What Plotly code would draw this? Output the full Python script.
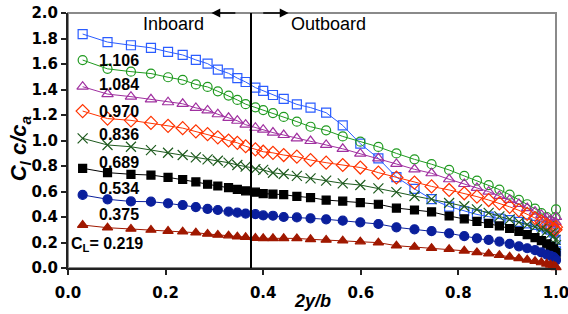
import plotly.graph_objects as go

# spanwise stations 2y/b
span = [0.030, 0.081, 0.129, 0.170, 0.205, 0.235, 0.262, 0.286, 0.307, 0.329,
        0.347, 0.364, 0.384, 0.400, 0.420, 0.442, 0.469, 0.497, 0.529, 0.563,
        0.599, 0.636, 0.673, 0.710, 0.745, 0.781, 0.812, 0.838, 0.862, 0.884,
        0.905, 0.924, 0.941, 0.957, 0.970, 0.981, 0.989, 0.995, 0.999, 1.000]

cl_1106 = [1.835, 1.772, 1.747, 1.727, 1.695, 1.671, 1.632, 1.603, 1.556, 1.527,
           1.489, 1.459, 1.415, 1.390, 1.357, 1.327, 1.283, 1.258, 1.218, 1.118,
           0.975, 0.860, 0.713, 0.620, 0.540, 0.482, 0.445, 0.420, 0.403, 0.388,
           0.375, 0.362, 0.350, 0.338, 0.326, 0.310, 0.300, 0.280, 0.220, 0.130]
cl_1084 = [1.631, 1.562, 1.540, 1.525, 1.496, 1.475, 1.440, 1.420, 1.386, 1.352,
           1.318, 1.285, 1.260, 1.239, 1.215, 1.185, 1.148, 1.108, 1.080, 1.032,
           0.991, 0.950, 0.899, 0.852, 0.814, 0.769, 0.722, 0.685, 0.650, 0.615,
           0.575, 0.535, 0.500, 0.465, 0.430, 0.400, 0.370, 0.330, 0.400, 0.460]
cl_0970 = [1.422, 1.364, 1.344, 1.323, 1.300, 1.288, 1.256, 1.236, 1.206, 1.178,
           1.155, 1.124, 1.100, 1.085, 1.062, 1.043, 1.017, 0.996, 0.965, 0.935,
           0.897, 0.860, 0.816, 0.774, 0.743, 0.696, 0.659, 0.628, 0.599, 0.565,
           0.535, 0.502, 0.470, 0.442, 0.416, 0.395, 0.375, 0.345, 0.360, 0.400]
cl_0836 = [1.231, 1.172, 1.158, 1.138, 1.115, 1.097, 1.072, 1.050, 1.025, 1.000,
           0.982, 0.955, 0.931, 0.912, 0.903, 0.886, 0.873, 0.847, 0.826, 0.808,
           0.788, 0.748, 0.710, 0.670, 0.640, 0.612, 0.586, 0.560, 0.533, 0.507,
           0.480, 0.452, 0.424, 0.392, 0.365, 0.340, 0.320, 0.305, 0.300, 0.320]
cl_0689 = [1.017, 0.965, 0.951, 0.925, 0.904, 0.886, 0.868, 0.852, 0.841, 0.826,
           0.808, 0.795, 0.776, 0.769, 0.747, 0.737, 0.722, 0.703, 0.685, 0.664,
           0.651, 0.625, 0.595, 0.565, 0.540, 0.510, 0.484, 0.460, 0.432, 0.405,
           0.382, 0.360, 0.340, 0.322, 0.305, 0.290, 0.270, 0.250, 0.220, 0.180]
cl_0534 = [0.782, 0.748, 0.735, 0.729, 0.711, 0.694, 0.675, 0.657, 0.643, 0.630,
           0.617, 0.605, 0.595, 0.583, 0.580, 0.575, 0.562, 0.552, 0.533, 0.525,
           0.513, 0.500, 0.470, 0.455, 0.440, 0.408, 0.386, 0.365, 0.350, 0.330,
           0.310, 0.288, 0.262, 0.238, 0.215, 0.190, 0.170, 0.150, 0.120, 0.100]
cl_0375 = [0.573, 0.539, 0.522, 0.520, 0.507, 0.494, 0.478, 0.463, 0.455, 0.442,
           0.434, 0.427, 0.422, 0.412, 0.410, 0.400, 0.397, 0.390, 0.382, 0.371,
           0.358, 0.345, 0.319, 0.303, 0.290, 0.272, 0.250, 0.233, 0.220, 0.207,
           0.190, 0.170, 0.155, 0.140, 0.122, 0.105, 0.095, 0.085, 0.070, 0.060]
cl_0219 = [0.337, 0.316, 0.306, 0.298, 0.290, 0.285, 0.277, 0.267, 0.259, 0.254,
           0.246, 0.241, 0.235, 0.233, 0.233, 0.233, 0.232, 0.225, 0.220, 0.214,
           0.207, 0.199, 0.175, 0.165, 0.156, 0.148, 0.135, 0.122, 0.112, 0.100,
           0.088, 0.075, 0.064, 0.053, 0.043, 0.033, 0.025, 0.018, 0.010, 0.005]

case_labels = ["1.106", "1.084", "0.970", "0.836", "0.689", "0.534", "0.375", "C<sub>L</sub>= 0.219"]
label_x = [0.105, 0.105, 0.105, 0.105, 0.105, 0.105, 0.105, 0.080]
label_y = [1.631, 1.443, 1.231, 1.051, 0.831, 0.620, 0.416, 0.188]

x_ticks = [0.0, 0.2, 0.4, 0.6, 0.8, 1.0]
y_ticks = [0.0, 0.2, 0.4, 0.6, 0.8, 1.0, 1.2, 1.4, 1.6, 1.8, 2.0]

styles = [
    (cl_1106, "square-open", 9, "#2a5cff"),
    (cl_1084, "circle-open", 9, "#1f9a1f"),
    (cl_0970, "triangle-up-open", 10, "#a030a0"),
    (cl_0836, "diamond-open", 10, "#ff3300"),
    (cl_0689, "x-thin-open", 10, "#1e5a1e"),
    (cl_0534, "square", 8, "#000000"),
    (cl_0375, "circle", 9, "#0a1f9c"),
    (cl_0219, "triangle-up", 9, "#a01800"),
]

fig = go.Figure()
for vals, sym, sz, col in styles:
    fig.add_trace(go.Scatter(
        x=span, y=vals, mode="lines+markers", cliponaxis=False,
        line=dict(color=col, width=1),
        marker=dict(symbol=sym, size=sz, color=col, line=dict(color=col, width=1.2)),
        showlegend=False,
    ))

lab_font = dict(family="Liberation Sans, Arial", size=16, color="black", weight="bold")
for t, lx, ly in zip(case_labels, label_x, label_y):
    fig.add_annotation(x=lx, y=ly, xref="x", yref="y", text=t, showarrow=False,
                       font=lab_font, xanchor="center", yanchor="middle")

# Inboard / Outboard
side_font = dict(family="Liberation Sans, Arial", size=18, color="black")
fig.add_annotation(x=0.217, y=1.91, xref="x", yref="y", text="Inboard", showarrow=False,
                   font=side_font, xanchor="center", yanchor="middle")
fig.add_annotation(x=0.534, y=1.91, xref="x", yref="y", text="Outboard", showarrow=False,
                   font=side_font, xanchor="center", yanchor="middle")
# arrows
fig.add_annotation(x=0.294, y=2.0, ax=0.346, ay=2.0, xref="x", yref="y", axref="x", ayref="y",
                   text="", showarrow=True, arrowhead=2, arrowsize=1.1, arrowwidth=1.6,
                   arrowcolor="black")
fig.add_annotation(x=0.452, y=2.0, ax=0.397, ay=2.0, xref="x", yref="y", axref="x", ayref="y",
                   text="", showarrow=True, arrowhead=2, arrowsize=1.1, arrowwidth=1.6,
                   arrowcolor="black")

# frame and divider
fig.add_shape(type="rect", xref="paper", yref="paper", x0=0, x1=1, y0=0, y1=1,
              line=dict(color="#8a8a8a", width=2), layer="below")
fig.add_shape(type="line", xref="x", yref="y", x0=0.375, x1=0.375, y0=0, y1=2.0,
              line=dict(color="black", width=2))

# axis titles
fig.add_annotation(x=0.5, y=-0.13, xref="paper", yref="paper", yanchor="middle",
                   text="<b><i>2y/b</i></b>", showarrow=False,
                   font=dict(family="Liberation Sans, Arial", size=18, color="black"))
fig.add_annotation(x=-0.098, y=0.47, xref="paper", yref="paper", textangle=-90,
                   xanchor="center", yanchor="middle",
                   text="<b><i>C<sub>l</sub> c/c<sub>a</sub></i></b>", showarrow=False,
                   font=dict(family="Liberation Sans, Arial", size=22, color="black"))

tick_font = dict(family="DejaVu Sans", size=15, color="black", weight="bold")
fig.update_xaxes(range=[0, 1.0], tickvals=x_ticks, ticktext=[f"{v:.1f}" for v in x_ticks],
                 showgrid=False, zeroline=False, showline=True, linecolor="#222222", linewidth=2,
                 ticks="outside", ticklen=5, tickwidth=1.5, tickcolor="#222222",
                 tickfont=tick_font, ticklabelstandoff=5, ticklabeloverflow="allow",
                 automargin=False)
fig.update_yaxes(range=[0, 2.0], tickvals=y_ticks, ticktext=[f"{v:.1f}" for v in y_ticks],
                 showgrid=False, zeroline=False, showline=True, linecolor="#222222", linewidth=2,
                 ticks="outside", ticklen=5, tickwidth=1.5, tickcolor="#222222",
                 tickfont=tick_font, ticklabeloverflow="allow", automargin=False)

fig.update_layout(width=568, height=314, margin=dict(l=68, r=12, t=13, b=46),
                  plot_bgcolor="white", paper_bgcolor="white", showlegend=False)

# remove the default 8px page margin so the figure fills the window exactly
fig.write_html("out.html", config={"displayModeBar": False},
               post_script="document.body.style.margin='0';")
